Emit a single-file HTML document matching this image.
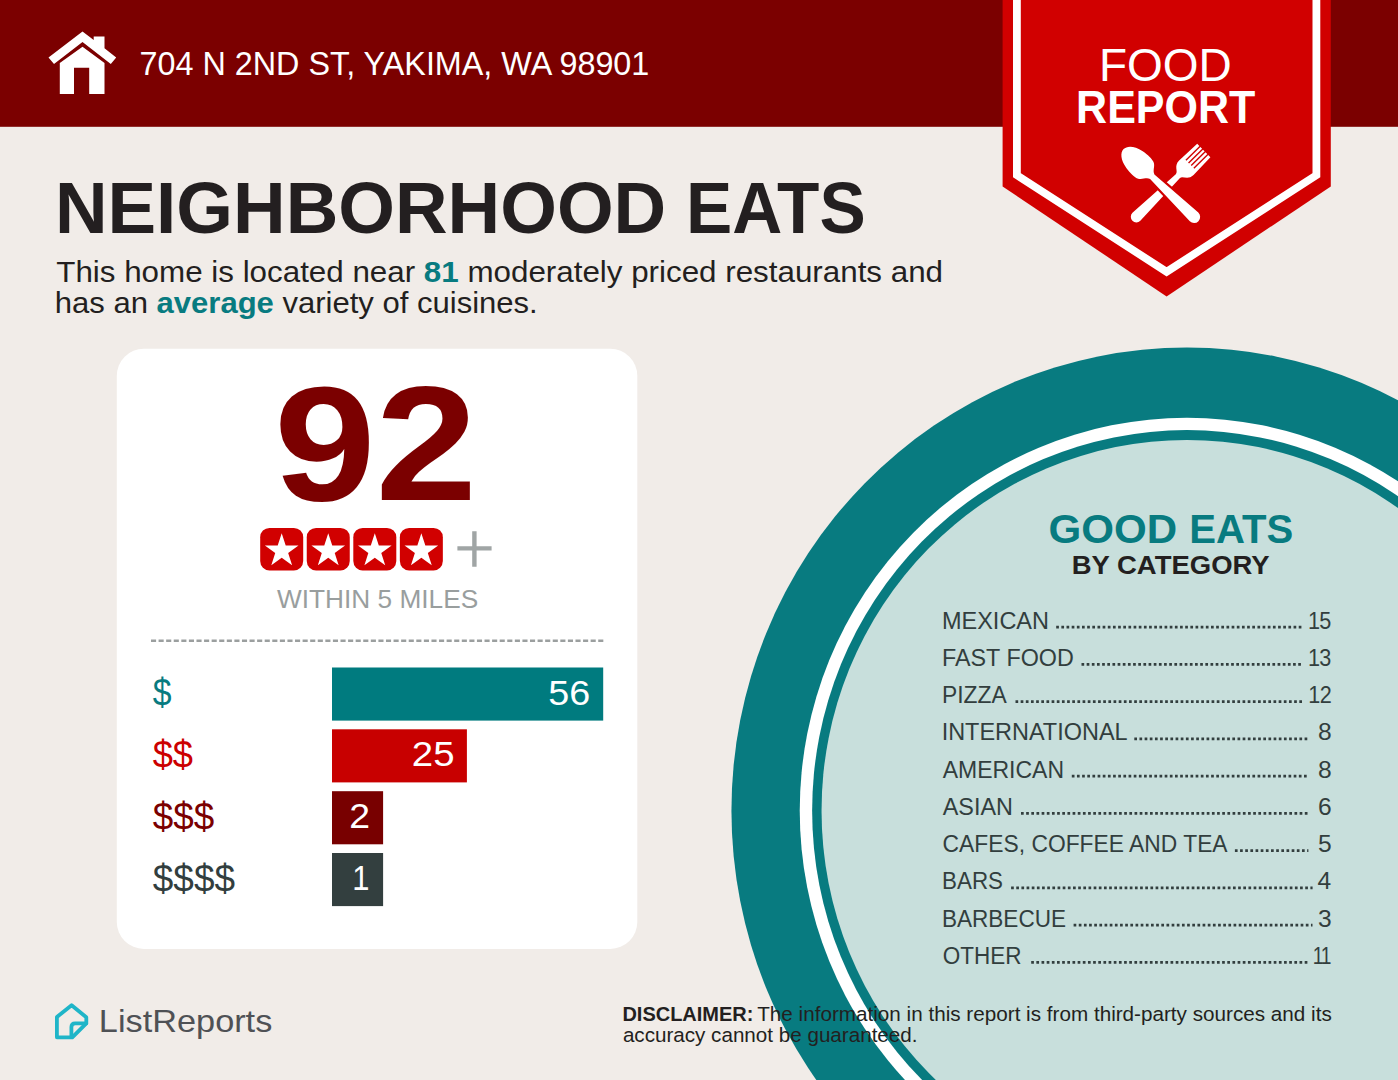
<!DOCTYPE html>
<html><head><meta charset="utf-8"><title>Food Report</title>
<style>
html,body{margin:0;padding:0;background:#f1ece8;}
body{width:1398px;height:1080px;position:relative;overflow:hidden;font-family:"Liberation Sans",sans-serif;}
.t{position:absolute;white-space:nowrap;line-height:1;transform-origin:0 50%;}
.t b{font-weight:700;}
#sub1 b,#sub2 b{color:#087b80;}
</style></head><body>

<svg style="position:absolute;left:0;top:0" width="1398" height="1080" viewBox="0 0 1398 1080">
<rect x="0" y="0" width="1398" height="126.8" fill="#7b0000"/>
<rect x="116.8" y="348.8" width="520.5" height="600.1" rx="27" ry="27" fill="#fff"/>
<rect x="332" y="667.5" width="271.2" height="53.1" fill="#007b7f"/>
<rect x="332" y="729.3" width="134.9" height="53.1" fill="#c80000"/>
<rect x="332" y="791.2" width="51.1" height="53.1" fill="#780000"/>
<rect x="332" y="853.0" width="51.1" height="53.1" fill="#333f3f"/>
<ellipse cx="1186.94" cy="810.7" rx="455.5" ry="463.2" fill="#087b80"/>
<ellipse cx="1186.94" cy="810.7" rx="387.2" ry="392.9" fill="#fff"/>
<ellipse cx="1186.94" cy="810.7" rx="374.8" ry="380.6" fill="#087b80"/>
<ellipse cx="1186.94" cy="810.7" rx="365.4" ry="370.7" fill="#c8dfdc"/>
<polygon points="1002.6,0 1330.8,0 1330.8,186.5 1166.6,296.4 1002.6,186.5" fill="#d10000"/>
<polyline points="1016.9,-5 1016.9,175.2 1166.6,271.8 1316.4,175.2 1316.4,-5" fill="none" stroke="#fff" stroke-width="7.8" stroke-linejoin="miter"/>
<g fill="#fff"><polygon points="82.5,31.4 93.7,39.9 93.7,36.4 104.5,36.4 104.5,48.3 116.2,57.6 110.8,63.9 82.5,42 54,63.9 48.5,57.6"/><path d="M82.5,46.75 L104.5,63.1 L104.5,94 L89.2,94 L89.2,67.8 L74,67.8 L74,94 L59.8,94 L59.8,63.1 Z"/></g>
<g transform="translate(1136.4,216.8) rotate(-44.5)" fill="#fff">
<path d="M0,-5.6 L58,-2.8 C62,-3 62,-10.2 70,-10.3 L94.5,-9.4 L94.5,9.4 L70,10.3 C62,10.2 62,3 58,2.8 L0,5.6 A5.6,5.6 0 0 1 0,-5.6 Z"/>
<rect x="75" y="-6.34" width="21" height="1.4" fill="#d10000"/>
<rect x="75" y="-2.58" width="21" height="1.4" fill="#d10000"/>
<rect x="75" y="1.18" width="21" height="1.4" fill="#d10000"/>
<rect x="75" y="4.94" width="21" height="1.4" fill="#d10000"/>
</g>
<g transform="translate(1137.5,162.5) rotate(43.9)" fill="#fff" stroke="#d10000" stroke-width="4.4" paint-order="stroke">
<path d="M-19.3,0 C-19.3,-5 -14,-10 -4,-11.7 C2,-12.7 8,-12.7 11,-11.5 C15.5,-9.8 16,-4.8 20.5,-3.1 L78.5,-6.1 A6.1,6.1 0 0 1 78.5,6.1 L20.5,3.1 C16,4.8 15.5,9.8 11,11.5 C8,12.7 2,12.7 -4,11.7 C-14,10 -19.3,5 -19.3,0 Z"/>
</g>
<rect x="260.20" y="527.9" width="43" height="42.5" rx="9.3" ry="9.3" fill="#d10000"/>
<polygon points="281.70,533.20 285.70,545.40 298.53,545.43 288.17,553.00 292.10,565.22 281.70,557.70 271.30,565.22 275.23,553.00 264.87,545.43 277.70,545.40" fill="#fff"/>
<rect x="306.75" y="527.9" width="43" height="42.5" rx="9.3" ry="9.3" fill="#d10000"/>
<polygon points="328.25,533.20 332.25,545.40 345.08,545.43 334.72,553.00 338.65,565.22 328.25,557.70 317.85,565.22 321.78,553.00 311.42,545.43 324.25,545.40" fill="#fff"/>
<rect x="353.30" y="527.9" width="43" height="42.5" rx="9.3" ry="9.3" fill="#d10000"/>
<polygon points="374.80,533.20 378.80,545.40 391.63,545.43 381.27,553.00 385.20,565.22 374.80,557.70 364.40,565.22 368.33,553.00 357.97,545.43 370.80,545.40" fill="#fff"/>
<rect x="399.85" y="527.9" width="43" height="42.5" rx="9.3" ry="9.3" fill="#d10000"/>
<polygon points="421.35,533.20 425.35,545.40 438.18,545.43 427.82,553.00 431.75,565.22 421.35,557.70 410.95,565.22 414.88,553.00 404.52,545.43 417.35,545.40" fill="#fff"/>
<path d="M457.4,548.4 H491.6 M474.4,531.3 V566.7" stroke="#a0a5a5" stroke-width="4.4" fill="none"/>
<path d="M151,640.7 H603.4" stroke="#9b9f9f" stroke-width="2.4" stroke-dasharray="5.1 2.48" fill="none"/>
<path d="M1056.2,627.1 H1303.0" stroke="#323e3e" stroke-width="2.8" stroke-dasharray="2.7 2.46" fill="none"/>
<path d="M1081.5,664.3 H1303.0" stroke="#323e3e" stroke-width="2.8" stroke-dasharray="2.7 2.46" fill="none"/>
<path d="M1015.5,701.6 H1303.0" stroke="#323e3e" stroke-width="2.8" stroke-dasharray="2.7 2.46" fill="none"/>
<path d="M1134.3,738.8 H1308.4" stroke="#323e3e" stroke-width="2.8" stroke-dasharray="2.7 2.46" fill="none"/>
<path d="M1071.8,776.1 H1308.4" stroke="#323e3e" stroke-width="2.8" stroke-dasharray="2.7 2.46" fill="none"/>
<path d="M1021.0,813.3 H1308.4" stroke="#323e3e" stroke-width="2.8" stroke-dasharray="2.7 2.46" fill="none"/>
<path d="M1234.9,850.6 H1308.4" stroke="#323e3e" stroke-width="2.8" stroke-dasharray="2.7 2.46" fill="none"/>
<path d="M1011.1,887.8 H1312.6" stroke="#323e3e" stroke-width="2.8" stroke-dasharray="2.7 2.46" fill="none"/>
<path d="M1073.6,925.1 H1312.5" stroke="#323e3e" stroke-width="2.8" stroke-dasharray="2.7 2.46" fill="none"/>
<path d="M1031.2,962.3 H1308.4" stroke="#323e3e" stroke-width="2.8" stroke-dasharray="2.7 2.46" fill="none"/>
<g fill="none" stroke="#1fb5c8" stroke-width="3.8" stroke-linejoin="round" stroke-linecap="round"><path d="M71.6,1005.3 L86.3,1017.3 L86.3,1023.3 L72.3,1037.3 L56.9,1037.3 L56.9,1017 Z"/><path d="M86.3,1023.3 L75.2,1023.3 Q71.4,1023.3 71.4,1027 L71.4,1037"/></g>
</svg>
<div class="t" id="addr" style="left:139px;top:47.23px;font-size:33.4px;color:#fff;transform:translateX(0.52px) scaleX(0.9684);">704 N 2ND ST, YAKIMA, WA 98901</div>
<div class="t" id="food" style="left:1098px;top:43.33px;font-size:45.8px;color:#fff;transform:translateX(0.94px) scaleX(1.0039);">FOOD</div>
<div class="t" id="report" style="left:1076px;top:85.01px;font-size:45.7px;color:#fff;font-weight:700;transform:translateX(0.12px) scaleX(0.9411);">REPORT</div>
<div class="t" id="title" style="left:54px;top:171.85px;font-size:72px;color:#231f20;font-weight:700;transform:translateX(0.89px) scaleX(1.0121);">NEIGHBORHOOD</div>
<div class="t" id="title2" style="left:685px;top:171.85px;font-size:72px;color:#231f20;font-weight:700;transform:translateX(0.90px) scaleX(0.9630);">EATS</div>
<div class="t" id="sub1" style="left:56px;top:257.70px;font-size:29px;color:#231f20;transform:translateX(0.28px) scaleX(1.0807);">This home is located near <b>81</b> moderately priced restaurants and</div>
<div class="t" id="sub2" style="left:54px;top:289.25px;font-size:29px;color:#231f20;transform:translateX(0.77px) scaleX(1.0699);">has an <b>average</b> variety of cuisines.</div>
<div class="t" id="n92" style="left:273px;top:361.60px;font-size:163.5px;color:#7b0000;font-weight:700;transform:translateX(0.93px) scaleX(1.1183);">92</div>
<div class="t" id="within" style="left:277px;top:585.78px;font-size:26.6px;color:#999e9e;transform:translateX(0.02px) scaleX(0.9864);">WITHIN 5 MILES</div>
<div class="t" id="d1" style="left:152px;top:674.03px;font-size:38px;color:#087b80;transform:translateX(0.76px) scaleX(0.8881);">$</div>
<div class="t" id="d2" style="left:152px;top:735.93px;font-size:38px;color:#cc0000;transform:translateX(0.63px) scaleX(0.9553);">$$</div>
<div class="t" id="d3" style="left:152px;top:797.83px;font-size:38px;color:#7b0000;transform:translateX(0.75px) scaleX(0.9694);">$$$</div>
<div class="t" id="d4" style="left:152px;top:859.53px;font-size:38px;color:#323e3e;transform:translateX(0.75px) scaleX(0.9731);">$$$$</div>
<div class="t" id="b1" style="left:548px;top:675.97px;font-size:34.3px;color:#fff;transform:translateX(0.33px) scaleX(1.1000);">56</div>
<div class="t" id="b2" style="left:411px;top:736.87px;font-size:34.3px;color:#fff;transform:translateX(0.80px) scaleX(1.1200);">25</div>
<div class="t" id="b3" style="left:349px;top:799.37px;font-size:34.3px;color:#fff;transform:translateX(0.13px) scaleX(1.0900);">2</div>
<div class="t" id="b4" style="left:352px;top:861.47px;font-size:34.3px;color:#fff;transform:translateX(0.31px) scaleX(0.9000);">1</div>
<div class="t" id="ge" style="left:1048px;top:509.13px;font-size:40.6px;color:#087b80;font-weight:700;transform:translateX(0.41px) scaleX(1.0375);">GOOD</div>
<div class="t" id="ge2" style="left:1189px;top:509.13px;font-size:40.6px;color:#087b80;font-weight:700;transform:translateX(0.32px) scaleX(0.9878);">EATS</div>
<div class="t" id="bc" style="left:1071px;top:553.24px;font-size:25.7px;color:#231f20;font-weight:700;transform:translateX(0.72px) scaleX(1.0695);">BY CATEGORY</div>
<div class="t" id="r0" style="left:941px;top:608.68px;font-size:24.6px;color:#323e3e;transform:translateX(0.95px) scaleX(0.9555);">MEXICAN</div>
<div class="t" id="n0" style="left:1307px;top:608.68px;font-size:24.6px;color:#323e3e;letter-spacing:-0.8px;transform:translateX(0.98px) scaleX(0.8800);">15</div>
<div class="t" id="r1" style="left:941px;top:645.92px;font-size:24.6px;color:#323e3e;transform:translateX(0.99px) scaleX(0.9487);">FAST FOOD</div>
<div class="t" id="n1" style="left:1308px;top:645.92px;font-size:24.6px;color:#323e3e;letter-spacing:-0.8px;transform:translateX(0.03px) scaleX(0.8800);">13</div>
<div class="t" id="r2" style="left:942px;top:683.16px;font-size:24.6px;color:#323e3e;transform:translateX(0.03px) scaleX(0.9284);">PIZZA</div>
<div class="t" id="n2" style="left:1308px;top:683.16px;font-size:24.6px;color:#323e3e;letter-spacing:-0.8px;transform:translateX(0.34px) scaleX(0.8800);">12</div>
<div class="t" id="r3" style="left:941px;top:720.41px;font-size:24.6px;color:#323e3e;transform:translateX(0.63px) scaleX(0.9539);">INTERNATIONAL</div>
<div class="t" id="n3" style="left:1318px;top:720.41px;font-size:24.6px;color:#323e3e;transform:translateX(0.00px) scaleX(1.0000);">8</div>
<div class="t" id="r4" style="left:942px;top:757.65px;font-size:24.6px;color:#323e3e;transform:translateX(0.70px) scaleX(0.9344);">AMERICAN</div>
<div class="t" id="n4" style="left:1318px;top:757.65px;font-size:24.6px;color:#323e3e;transform:translateX(0.00px) scaleX(1.0000);">8</div>
<div class="t" id="r5" style="left:942px;top:794.90px;font-size:24.6px;color:#323e3e;transform:translateX(0.70px) scaleX(0.9508);">ASIAN</div>
<div class="t" id="n5" style="left:1318px;top:794.90px;font-size:24.6px;color:#323e3e;transform:translateX(0.04px) scaleX(1.0000);">6</div>
<div class="t" id="r6" style="left:942px;top:832.14px;font-size:24.6px;color:#323e3e;transform:translateX(0.60px) scaleX(0.9282);">CAFES, COFFEE AND TEA</div>
<div class="t" id="n6" style="left:1318px;top:832.14px;font-size:24.6px;color:#323e3e;transform:translateX(0.01px) scaleX(1.0000);">5</div>
<div class="t" id="r7" style="left:942px;top:869.39px;font-size:24.6px;color:#323e3e;transform:translateX(0.06px) scaleX(0.9095);">BARS</div>
<div class="t" id="n7" style="left:1317px;top:869.39px;font-size:24.6px;color:#323e3e;transform:translateX(0.46px) scaleX(1.0000);">4</div>
<div class="t" id="r8" style="left:941px;top:906.63px;font-size:24.6px;color:#323e3e;transform:translateX(0.93px) scaleX(0.9174);">BARBECUE</div>
<div class="t" id="n8" style="left:1318px;top:906.63px;font-size:24.6px;color:#323e3e;transform:translateX(0.08px) scaleX(1.0000);">3</div>
<div class="t" id="r9" style="left:942px;top:943.88px;font-size:24.6px;color:#323e3e;transform:translateX(0.66px) scaleX(0.9154);">OTHER</div>
<div class="t" id="n9" style="left:1312px;top:943.88px;font-size:24.6px;color:#323e3e;letter-spacing:-1.8px;transform:translateX(0.85px) scaleX(0.7800);">11</div>
<div class="t" id="dis0" style="left:622px;top:1004.95px;font-size:19.9px;color:#231f20;font-weight:700;transform:translateX(0.42px) scaleX(1.0047);">DISCLAIMER:</div>
<div class="t" id="dis1" style="left:757px;top:1004.95px;font-size:19.9px;color:#231f20;transform:translateX(0.23px) scaleX(1.0394);">The information in this report is from third-party sources and its</div>
<div class="t" id="dis2" style="left:622px;top:1025.65px;font-size:19.9px;color:#231f20;transform:translateX(0.88px) scaleX(1.0367);">accuracy cannot be guaranteed.</div>
<div class="t" id="logo" style="left:98px;top:1006.05px;font-size:31.6px;color:#4f5155;transform:translateX(0.86px) scaleX(1.0854);">ListReports</div>
</body></html>
